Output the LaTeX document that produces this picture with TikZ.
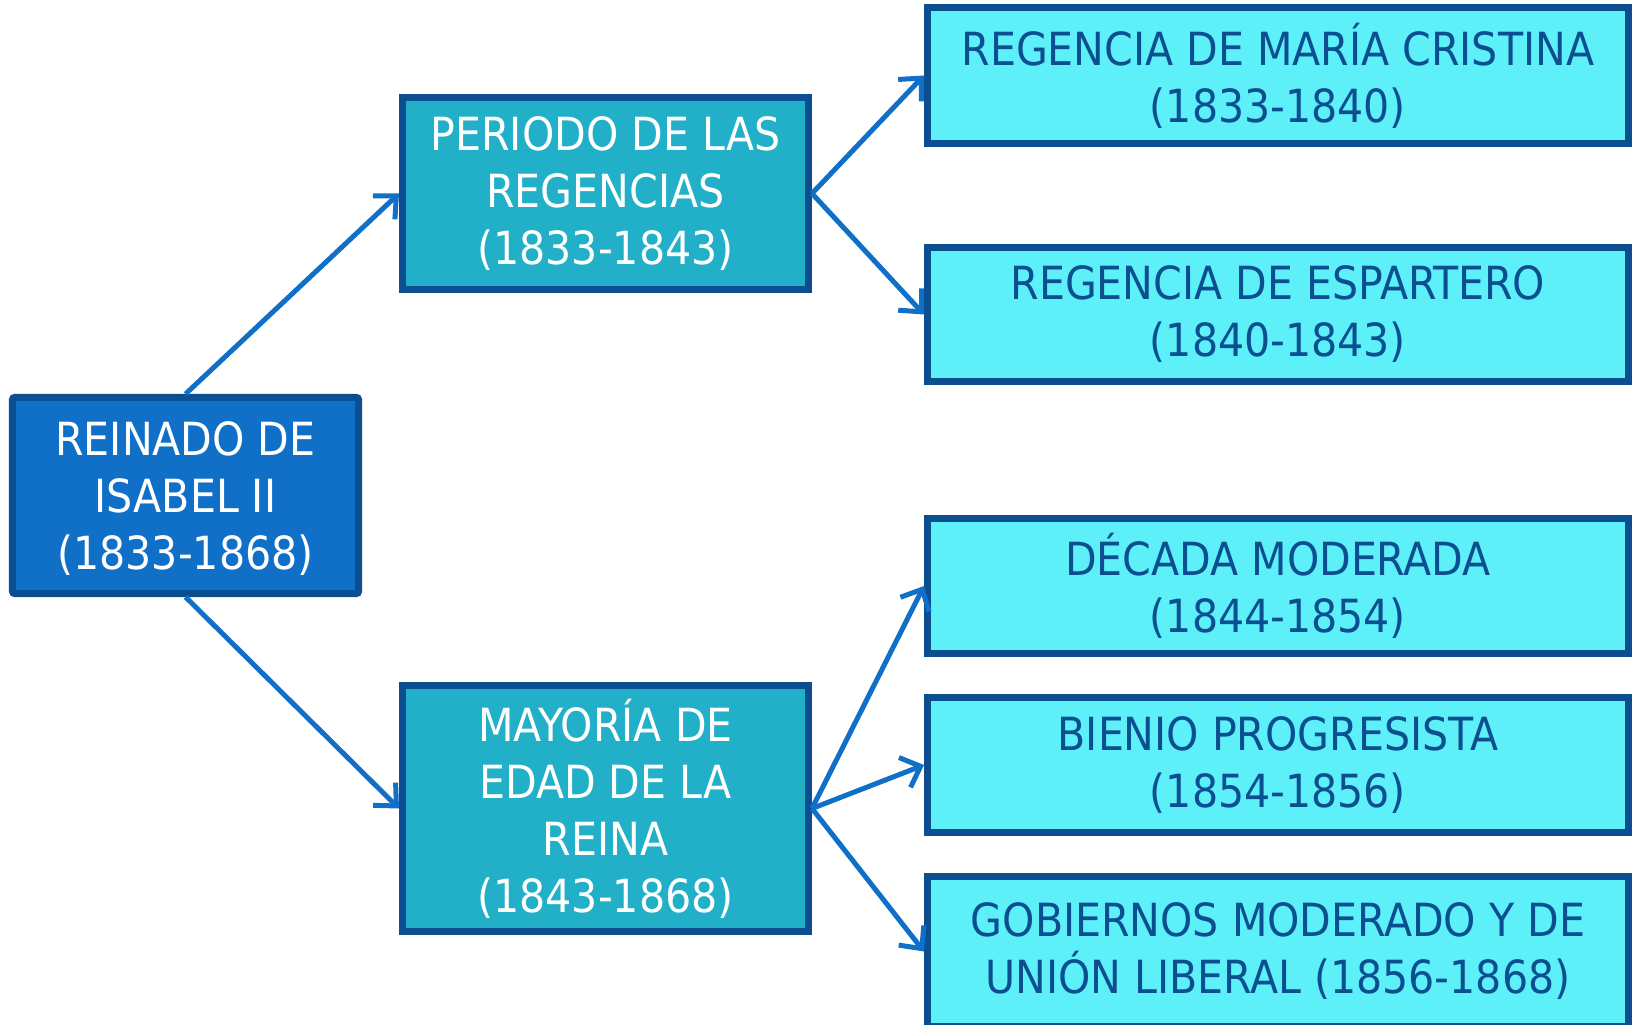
\documentclass[tikz,border=0pt]{standalone}
\usepackage{fontspec}
\setmainfont{DejaVu Sans Condensed}
\usetikzlibrary{arrows.meta}
\definecolor{rootblue}{HTML}{1070C8}
\definecolor{midblue}{HTML}{22B0C8}
\definecolor{lightcyan}{HTML}{5EF0F8}
\definecolor{edgeblue}{HTML}{0B4F90}
\definecolor{arrowblue}{HTML}{1070C8}
\begin{document}
\begin{tikzpicture}
        \useasboundingbox (0,0) rectangle (16.33,-10.25);
        \begin{scope}[every node/.style={draw=edgeblue,line width=0.07cm,align=center,
                font=\fontsize{13}{16.2}\selectfont,inner sep=0pt}]
            \node (reinado) [fill=rootblue,text=white,minimum width=3.46cm,minimum height=1.96cm,
                rounded corners=0.6pt,text depth=-0.1cm] at (1.855,-4.955) {REINADO DE\\ISABEL II\\(1833-1868)};
            \node (regencias) [fill=midblue,text=white,minimum width=4.06cm,minimum height=1.92cm]
                at (6.055,-1.935) {PERIODO DE LAS\\REGENCIAS\\(1833-1843)};
            \node (mayoria) [fill=midblue,text=white,minimum width=4.06cm,minimum height=2.46cm]
                at (6.055,-8.085) {MAYORÍA DE\\EDAD DE LA\\REINA\\(1843-1868)};
            \node (cristina) [fill=lightcyan,text=edgeblue,minimum width=7.01cm,minimum height=1.36cm]
                at (12.78,-0.755) {REGENCIA DE MARÍA CRISTINA\\(1833-1840)};
            \node (espartero) [fill=lightcyan,text=edgeblue,minimum width=7.01cm,minimum height=1.34cm]
                at (12.78,-3.145) {REGENCIA DE ESPARTERO\\(1840-1843)};
            \node (moderada) [fill=lightcyan,text=edgeblue,minimum width=7.01cm,minimum height=1.35cm]
                at (12.78,-5.86) {DÉCADA MODERADA\\(1844-1854)};
            \node (bienio) [fill=lightcyan,text=edgeblue,minimum width=7.01cm,minimum height=1.35cm]
                at (12.78,-7.65) {BIENIO PROGRESISTA\\(1854-1856)};
            \node (gobiernos) [fill=lightcyan,text=edgeblue,minimum width=7.01cm,minimum height=1.50cm]
                at (12.78,-9.515) {GOBIERNOS MODERADO Y DE\\UNIÓN LIBERAL (1856-1868)};
        \end{scope}
        \begin{scope}[every edge/.style={draw=arrowblue,line width=0.05cm,
                -{Straight Barb[length=0.17cm,width=0.32cm,line width=0.05cm]}}]
            \path
                (reinado.north) edge (regencias.west)
                (reinado.south) edge (mayoria.west)
                (regencias.east) edge (cristina.west)
                (regencias.east) edge (espartero.west)
                (mayoria.east) edge (moderada.west)
                (mayoria.east) edge (bienio.west)
                (mayoria.east) edge (gobiernos.west);
        \end{scope}
    \end{tikzpicture}
\end{document}
